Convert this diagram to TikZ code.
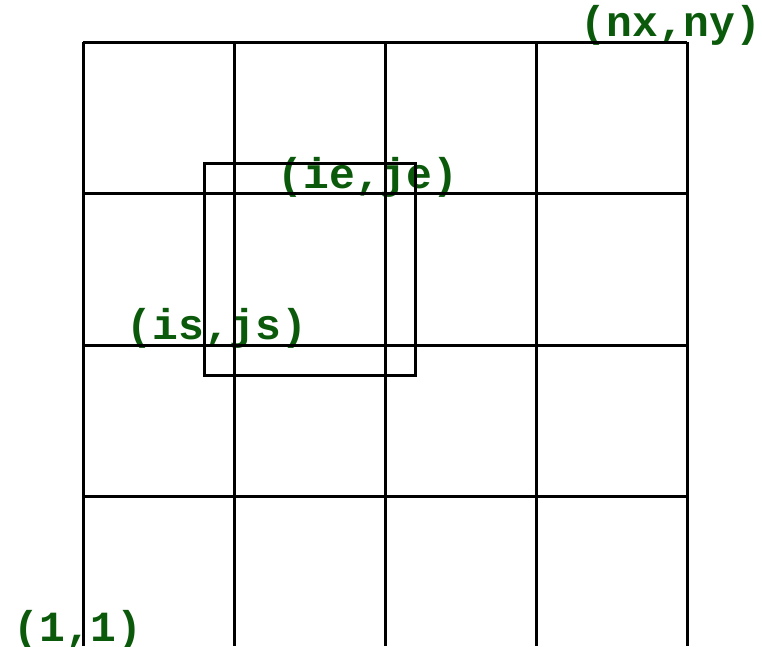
\documentclass[tikz,border=0pt]{standalone}
\usepackage{fontspec}
\usepackage{tikz}
\newfontfamily\labelfont{Liberation Mono}
\definecolor{darkgreen}{HTML}{0B5A0B}

\begin{document}
\begin{tikzpicture}[
  x=1pt, y=-1pt,
  grid/.style={line width=3pt, black},
  lbl/.style={text=darkgreen, font=\labelfont\bfseries\fontsize{43}{43}\selectfont, inner sep=0pt}
]
\useasboundingbox (0,0) rectangle (762,646);

% labels first, lines are drawn over them
\node[lbl] (corner) at (671,25) {(nx,ny)};
\node[lbl] (tile end) at (368,177) {(ie,je)};
\node[lbl] (tile start) at (217,328) {(is,js)};
\node[lbl] (origin) at (78,630) {(1,1)};

% domain
\foreach \x in {83,234,385,536,687}
  \draw[grid] (\x,42) -- (\x,646);
\foreach \y in {42,193,345,496}
  \draw[grid] (83,\y) -- (687,\y);

% tile
\draw[grid] (204,163) rectangle (415,375);
\end{tikzpicture}
\end{document}
